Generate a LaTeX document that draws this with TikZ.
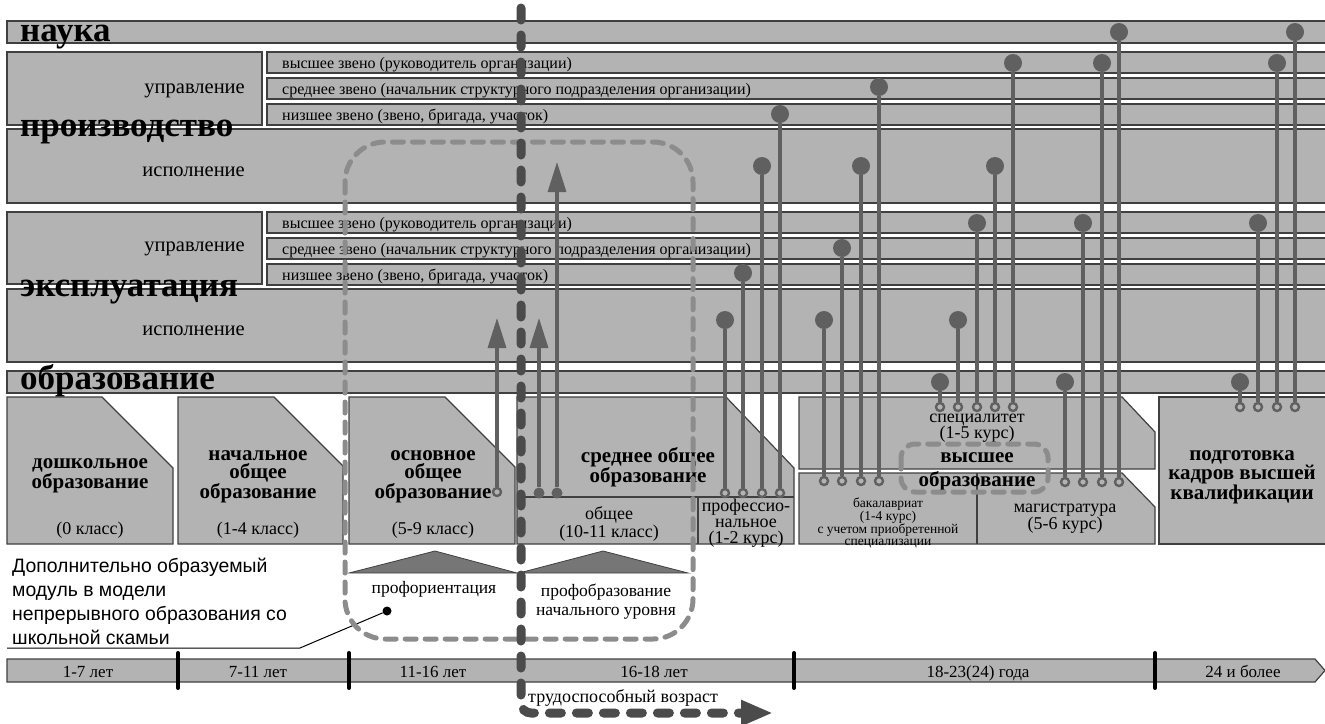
\documentclass[tikz,border=0pt]{standalone}
\usepackage{fontspec}
\setmainfont{Liberation Serif}
\newfontfamily\annfont{Liberation Sans}
\usetikzlibrary{arrows.meta}
\definecolor{boxfill}{RGB}{179,179,179}
\definecolor{bord}{RGB}{64,64,64}
\definecolor{conn}{RGB}{96,96,96}
\definecolor{bigd}{RGB}{75,75,75}
\definecolor{lightd}{RGB}{140,140,140}
\definecolor{trif}{RGB}{118,118,118}
\tikzset{
  box/.style={fill=boxfill,draw=bord,line width=1.2pt},
  bigtitle/.style={font=\fontsize{35}{35}\selectfont\bfseries,anchor=base west,inner sep=0pt},
  rowlbl/.style={font=\fontsize{20.5}{24}\selectfont,anchor=base east,inner sep=0pt},
  sublbl/.style={font=\fontsize{16}{20}\selectfont,anchor=base west,inner sep=0pt},
  edutitle/.style={font=\fontsize{21}{18}\selectfont\bfseries,align=center,inner sep=0pt},
  eduitem/.style={font=\fontsize{18}{16}\selectfont,align=center,inner sep=0pt},
  smallitem/.style={font=\fontsize{13.5}{12}\selectfont,align=center,inner sep=0pt},
  agelbl/.style={font=\fontsize{17}{20}\selectfont,inner sep=0pt,anchor=base},
  ring/.style={circle,draw=conn,fill=boxfill,line width=2.4pt,minimum size=8pt,inner sep=0pt},
  topdot/.style={circle,fill=conn,minimum size=18pt,inner sep=0pt},
  basedot/.style={circle,fill=conn,minimum size=11pt,inner sep=0pt},
  cline/.style={draw=conn,line width=3.2pt},
  uparrow/.style={cline,-{Triangle[length=30pt,width=18pt]}},
  lightdash/.style={draw=lightd,line width=5pt,line cap=round,dash pattern=on 11pt off 9pt},
  bigdash/.style={draw=bigd,line width=9pt,line cap=round,dash pattern=on 12pt off 15pt},
  agesep/.style={draw=black,line width=4pt,line cap=round},
  tri/.style={fill=trif,draw=bord,line width=0.8pt},
}
\begin{document}
\begin{tikzpicture}[x=1pt,y=-1pt]
\useasboundingbox (0,0) rectangle (1325,723);
% ---------- rows ----------
\draw[box] (7,21) rectangle (1335,43);
\draw[box] (7,52) rectangle (262,125);
\draw[box] (267,52) rectangle (1335,73);
\draw[box] (267,78) rectangle (1335,99);
\draw[box] (267,104) rectangle (1335,125);
\draw[box] (7,129) rectangle (1335,203);
\draw[box] (7,212) rectangle (262,284);
\draw[box] (267,212) rectangle (1335,233);
\draw[box] (267,238) rectangle (1335,259);
\draw[box] (267,264) rectangle (1335,285);
\draw[box] (7,289) rectangle (1335,362);
\draw[box] (7,371) rectangle (1335,393);
% ---------- education boxes ----------
\draw[box] (7,397) -- (102,397) -- (173,468) -- (173,544) -- (7,544) -- cycle;
\draw[box] (178,397) -- (274,397) -- (343,466) -- (343,544) -- (178,544) -- cycle;
\draw[box] (349,397) -- (445,397) -- (515,467) -- (515,544) -- (349,544) -- cycle;
\draw[box] (517,397) -- (726,397) -- (794,468) -- (794,544) -- (517,544) -- cycle;
\draw[bord,line width=1.2pt] (517,497) -- (794,497) (698,497) -- (698,544);
\draw[box] (799,397) -- (1122,397) -- (1155,432) -- (1155,469) -- (799,469) -- cycle;
\draw[box] (799,473) -- (1122,473) -- (1155,507) -- (1155,544) -- (799,544) -- cycle;
\draw[bord,line width=1.2pt] (977,473) -- (977,544);
\draw[box] (1159,397) -- (1335,397) -- (1335,544) -- (1159,544) -- cycle;
% ---------- timeline ----------
\draw[box] (7,659) -- (1315,659) -- (1325,670.5) -- (1315,682) -- (7,682) -- cycle;
\foreach \x in {178,349,794,1155}{\draw[agesep] (\x,653) -- (\x,688);}
% ---------- triangles ----------
\draw[tri] (349,573) -- (435,551) -- (517,573) -- cycle;
\draw[tri] (519,573) -- (603,551) -- (688,573) -- cycle;
% ---------- row texts ----------
\node[bigtitle] (tNauka) at (20,41) {наука};
\node[rowlbl] (tUpr1) at (245,93) {управление};
\node[rowlbl] (tIsp1) at (245,176) {исполнение};
\node[rowlbl] (tUpr2) at (245,251) {управление};
\node[rowlbl] (tIsp2) at (245,335) {исполнение};
\node[sublbl] (s1a) at (282,68) {высшее звено (руководитель организации)};
\node[sublbl] (s1b) at (282,94) {среднее звено (начальник структурного подразделения организации)};
\node[sublbl] (s1c) at (282,120) {низшее звено (звено, бригада, участок)};
\node[sublbl] (s2a) at (282,228) {высшее звено (руководитель организации)};
\node[sublbl] (s2b) at (282,254) {среднее звено (начальник структурного подразделения организации)};
\node[sublbl] (s2c) at (282,280) {низшее звено (звено, бригада, участок)};
\node[bigtitle] (tProizv) at (20,136) {производство};
\node[bigtitle] (tExpl) at (20,296) {эксплуатация};
\node[bigtitle] (tObraz) at (20,389) {образование};
% ---------- education texts ----------
\node[edutitle] (e1) at (90,476) {дошкольное\\образование};
\node[eduitem] (e1c) at (90,530) {(0 класс)};
\node[edutitle] (e2) at (258,477) {начальное\\общее\\образование};
\node[eduitem] (e2c) at (258,530) {(1-4 класс)};
\node[edutitle] (e3) at (433,477) {основное\\общее\\образование};
\node[eduitem] (e3c) at (433,530) {(5-9 класс)};
\node[edutitle] (e4) at (648,467) {среднее общее\\образование};
\node[eduitem] (e4a) at (609,524) {общее\\(10-11 класс)};
\node[eduitem] (e4b) at (746,523) {профессио-\\нальное\\(1-2 курс)};
\node[eduitem] (e5a) at (977,428) {специалитет\\(1-5 курс)};
\node[edutitle] (e5t1) at (977,458) {высшее};
\node[edutitle] (e5t2) at (977,481) {образование};
\node[smallitem] (e5b) at (888,523) {бакалавриат\\(1-4 курс)\\с учетом приобретенной\\специализации};
\node[eduitem] (e5c) at (1065,519) {магистратура\\(5-6 курс)};
\node[edutitle] (e6) at (1242,477) {подготовка\\кадров высшей\\квалификации};
% ---------- age labels ----------
\node[agelbl] (g1) at (88,677) {1-7 лет};
\node[agelbl] (g2) at (258,677) {7-11 лет};
\node[agelbl] (g3) at (433,677) {11-16 лет};
\node[agelbl] (g4) at (654,677) {16-18 лет};
\node[agelbl] (g5) at (978,677) {18-23(24) года};
\node[agelbl] (g6) at (1243,677) {24 и более};
\node[agelbl,anchor=base west,font=\fontsize{18}{20}\selectfont] (gWork) at (528,702) {трудоспособный возраст};
\node[agelbl,font=\fontsize{17.5}{20}\selectfont] (p1) at (434,593) {профориентация};
\node[align=center,inner sep=0pt,font=\fontsize{17.5}{19}\selectfont] (p2) at (606,602) {профобразование\\начального уровня};
% ---------- annotation ----------
\node[inner sep=0pt,anchor=west,align=left,font=\annfont\fontsize{19.4}{24}\selectfont] (ann) at (12,601) {Дополнительно образуемый\\модуль в модели\\непрерывного образования со\\школьной скамьи};
\node[circle,fill=black,minimum size=9pt,inner sep=0pt] (annDot) at (387,611) {};
\coordinate (ul0) at (7,648);
\coordinate (ul1) at (300,648);
\draw[line width=1pt] (ul0) -- (ul1) -- (annDot);
% ---------- dashed module frames ----------
\draw[lightdash,rounded corners=40pt] (345,142) rectangle (693,639);
\draw[lightdash,rounded corners=14pt] (901,444) rectangle (1048,492);
% ---------- lollipop connectors ----------
\foreach \x/\yb/\yt in {725/493/320,743/493/273,762/493/166,780/493/114,
  824/481/320,842/481/248,861/481/166,879/481/87,
  940/407/382,958/407/320,977/407/223,995/407/166,1013/407/63,
  1065/482/382,1083/482/223,1102/482/63,1119/482/32,
  1240/407/382,1258/407/223,1277/407/63,1295/407/32}{
  \node[ring] (r\x) at (\x,\yb) {};
  \node[topdot] (t\x) at (\x,\yt) {};
  \draw[cline] (r\x) -- (t\x);
}
% ---------- arrows ----------
\node[ring] (r497) at (497,492) {};
\node[basedot] (b539) at (539,493) {};
\node[basedot] (b557) at (557,493) {};
\coordinate (a497) at (497,318);
\coordinate (a539) at (539,318);
\coordinate (a557) at (557,162);
\draw[uparrow] (r497) -- (a497);
\draw[uparrow] (b539) -- (a539);
\draw[uparrow] (b557) -- (a557);
% ---------- working age line ----------
\coordinate (tdA) at (521,8);
\coordinate (tdB) at (521,713);
\coordinate (tdC) at (773,713);
\draw[bigdash,rounded corners=10pt,-{Triangle[length=32pt,width=24pt]}] (tdA) -- (tdB) -- (tdC);
\end{tikzpicture}
\end{document}
